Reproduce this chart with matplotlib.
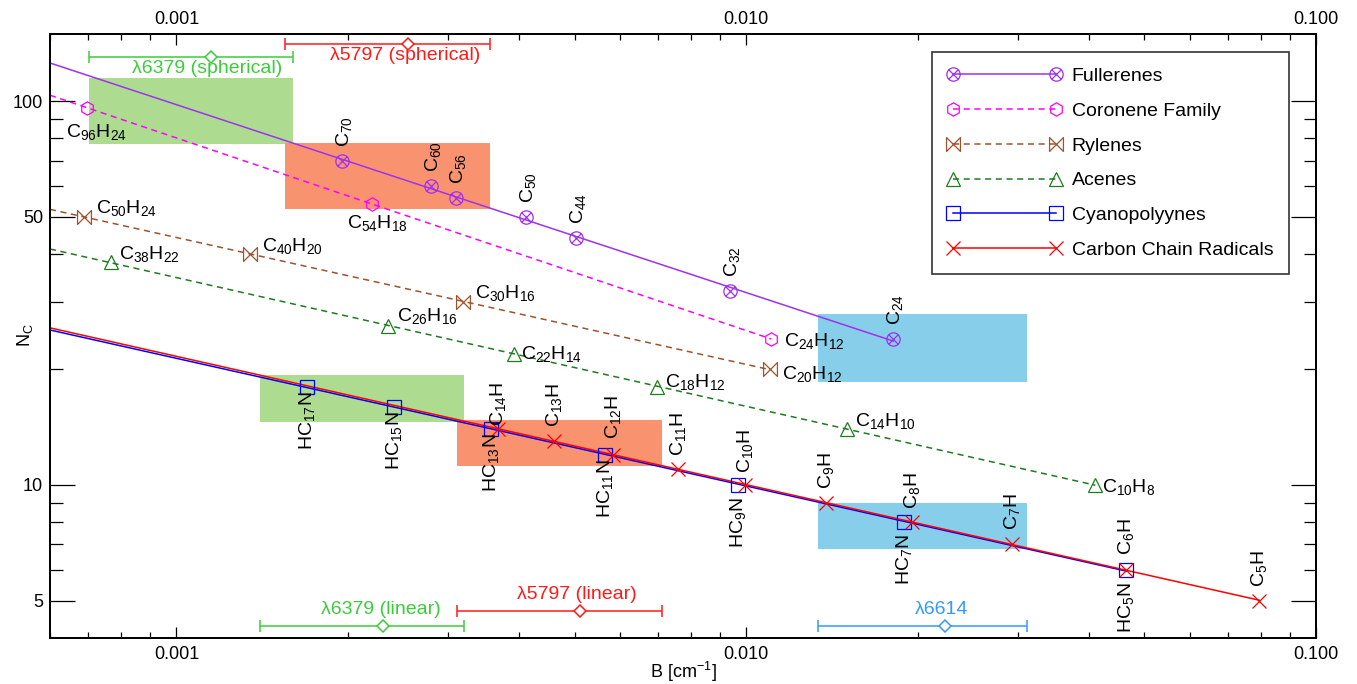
import numpy as np
import matplotlib
matplotlib.use("Agg")
import matplotlib.pyplot as plt
from matplotlib.path import Path
from matplotlib.lines import Line2D
from matplotlib.patches import Rectangle
from matplotlib.ticker import FixedLocator, FixedFormatter, NullFormatter

plt.rcParams['font.family'] = ['Liberation Sans', 'DejaVu Sans']
plt.rcParams['mathtext.default'] = 'regular'
plt.rcParams['font.size'] = 13

# rotational constant B [cm^-1] against number of carbon atoms N_C
fullerene_b = [0.00195, 0.00280, 0.00309, 0.00410, 0.00503, 0.00937, 0.01811]
fullerene_n = [70, 60, 56, 50, 44, 32, 24]
fullerene_names = ['C$_{70}$', 'C$_{60}$', 'C$_{56}$', 'C$_{50}$', 'C$_{44}$', 'C$_{32}$', 'C$_{24}$']

coronene_b = [0.000698, 0.00220, 0.01106]
coronene_n = [96, 54, 24]
coronene_names = ['C$_{96}$H$_{24}$', 'C$_{54}$H$_{18}$', 'C$_{24}$H$_{12}$']

rylene_b = [0.000687, 0.001346, 0.00319, 0.01099]
rylene_n = [50, 40, 30, 20]
rylene_names = ['C$_{50}$H$_{24}$', 'C$_{40}$H$_{20}$', 'C$_{30}$H$_{16}$', 'C$_{20}$H$_{12}$']

acene_b = [0.000767, 0.00235, 0.00391, 0.00698, 0.0150, 0.0410]
acene_n = [38, 26, 22, 18, 14, 10]
acene_names = ['C$_{38}$H$_{22}$', 'C$_{26}$H$_{16}$', 'C$_{22}$H$_{14}$', 'C$_{18}$H$_{12}$',
               'C$_{14}$H$_{10}$', 'C$_{10}$H$_{8}$']

cyano_b = [0.001693, 0.002405, 0.003559, 0.005642, 0.00969, 0.01895, 0.04647]
cyano_n = [18, 16, 14, 12, 10, 8, 6]
cyano_names = ['HC$_{17}$N', 'HC$_{15}$N', 'HC$_{13}$N', 'HC$_{11}$N', 'HC$_{9}$N', 'HC$_{7}$N', 'HC$_{5}$N']

chain_b = [0.003662, 0.004590, 0.005826, 0.007606, 0.009968, 0.01382, 0.01957, 0.02933, 0.04647, 0.07952]
chain_n = [14, 13, 12, 11, 10, 9, 8, 7, 6, 5]
chain_names = ['C$_{14}$H', 'C$_{13}$H', 'C$_{12}$H', 'C$_{11}$H', 'C$_{10}$H',
               'C$_{9}$H', 'C$_{8}$H', 'C$_{7}$H', 'C$_{6}$H', 'C$_{5}$H']

# DIB ranges in B
dib_names = ['λ6379 (spherical)', 'λ5797 (spherical)', 'λ6379 (linear)', 'λ5797 (linear)', 'λ6614']
dib_b = [0.001148, 0.002553, 0.002308, 0.00510, 0.02231]
dib_b_lo = [0.000702, 0.00155, 0.001402, 0.003102, 0.01334]
dib_b_hi = [0.00160, 0.003544, 0.003192, 0.007121, 0.03112]
dib_n = [130, 141, 4.3, 4.7, 4.3]

# shaded boxes: which DIB range, and N_C span
box_dib = [0, 1, 4, 2, 3, 4]
box_n_lo = [77.1, 52.5, 18.5, 14.6, 11.2, 6.8]
box_n_hi = [114.6, 78.0, 27.8, 19.3, 14.8, 9.0]

XMIN, XMAX = 0.0006, 0.1
YMIN, YMAX = 4, 150
PX = 0.72  # points per pixel at 100 dpi
FS = 14

green, red, blue6614 = '#3ACD3A', '#FF1A1A', '#3399FF'
dib_colors = [green, red, green, red, blue6614]
box_colors = ['#ADDC91', '#F9936F', '#87CEEB', '#ADDC91', '#F9936F', '#87CEEB']


def marker_circle_x():
    d = 0.7071
    cross = Path([(-d, -d), (d, d), (-d, d), (d, -d)],
                 [Path.MOVETO, Path.LINETO, Path.MOVETO, Path.LINETO])
    return Path.make_compound_path(Path.unit_circle(), cross)


def marker_bowtie():
    return Path([(-1, -1), (1, 1), (1, -1), (-1, 1), (-1, -1)],
                [Path.MOVETO, Path.LINETO, Path.LINETO, Path.LINETO, Path.CLOSEPOLY])


def fit_line(b, n):
    k, c = np.polyfit(np.log10(b), np.log10(n), 1)
    xs = np.array([XMIN, max(b)])
    return xs, 10 ** (c + k * np.log10(xs))


def label_points(ax, b, n, names, offsets, rot=0, ha='left', va='baseline'):
    for x, y, s, (dx, dy) in zip(b, n, names, offsets):
        ax.annotate(s, (x, y), xytext=(dx * PX, dy * PX), textcoords='offset points',
                    rotation=rot, ha=ha, va=va, fontsize=FS, zorder=6)


fig = plt.figure(figsize=(13.57, 6.84), dpi=100)
ax = fig.add_axes([50 / 1357, 1 - 637.7 / 684, 1266 / 1357, 604.2 / 684])
ax.set_xscale('log')
ax.set_yscale('log')
ax.set_xlim(XMIN, XMAX)
ax.set_ylim(YMIN, YMAX)

# shaded boxes
for i, lo, hi, col in zip(box_dib, box_n_lo, box_n_hi, box_colors):
    ax.add_patch(Rectangle((dib_b_lo[i], lo), dib_b_hi[i] - dib_b_lo[i], hi - lo,
                           facecolor=col, edgecolor='none', zorder=1))

series = [
    ('Fullerenes', fullerene_b, fullerene_n, '#A030F0', '-', marker_circle_x(), 9.6),
    ('Coronene Family', coronene_b, coronene_n, '#FF00FF', '--', 'h', 9.6),
    ('Rylenes', rylene_b, rylene_n, '#A0522D', '--', marker_bowtie(), 10),
    ('Acenes', acene_b, acene_n, '#1E7B1E', '--', '^', 9.6),
    ('Cyanopolyynes', cyano_b, cyano_n, '#0000FF', '-', 's', 10),
    ('Carbon Chain Radicals', chain_b, chain_n, '#FF0000', '-', 'x', 9.5),
]

handles = []
for name, b, n, col, ls, mk, ms in series:
    xs, ys = fit_line(b, n)
    ax.plot(xs, ys, color=col, ls=ls, lw=1.1, dashes=(4, 3) if ls == '--' else (None, None), zorder=3)
    ax.plot(b, n, ls='none', marker=mk, ms=ms, mfc='none', mec=col, mew=0.9, zorder=4)
    h = Line2D([], [], color=col, lw=1.1, marker=mk, ms=ms, mfc='none', mec=col, mew=0.9)
    if ls == '--':
        h.set_dashes((4, 3))
    handles.append((h, name))

# point labels (offsets in pixels)
label_points(ax, fullerene_b, fullerene_n, fullerene_names, [(2, 14)] * 7, rot=90, ha='center', va='bottom')
label_points(ax, coronene_b, coronene_n, coronene_names, [(-21, -29), (-25, -24), (13, -7)])
label_points(ax, rylene_b, rylene_n, rylene_names, [(12, 4), (12, 3), (12, 4), (12, -10)])
label_points(ax, acene_b, acene_n, acene_names, [(8, 3), (9, 5), (7, -5), (8, 0), (8, 3), (7, -7)])
label_points(ax, cyano_b, cyano_n, cyano_names, [(0, -63)] * 7, rot=90, ha='center', va='bottom')
label_points(ax, chain_b, chain_n, chain_names,
             [(0, 3), (0, 14), (0, 16), (0, 13), (0, 12), (0, 14), (0, 13), (0, 14), (0, 15), (0, 14)],
             rot=90, ha='center', va='bottom')

# DIB range bars
for i in range(len(dib_names)):
    x, y, col = dib_b[i], dib_n[i], dib_colors[i]
    ax.errorbar([x], [y], xerr=[[x - dib_b_lo[i]], [dib_b_hi[i] - x]], fmt='D', ms=6.2,
                mfc='white', mec=col, mew=1.1, color=col, ecolor=col, elinewidth=1.1,
                capsize=4.2, capthick=1.1, zorder=5)
    if 'spherical' in dib_names[i]:
        ax.annotate(dib_names[i], (x, y), xytext=(-3 * PX, -3 * PX), textcoords='offset points',
                    ha='center', va='top', color=col, fontsize=FS, zorder=6)
    else:
        ax.annotate(dib_names[i], (x, y), xytext=(-3 * PX, 8 * PX), textcoords='offset points',
                    ha='center', va='bottom', color=col, fontsize=FS, zorder=6)

leg = ax.legend([h for h, _ in handles], [s for _, s in handles], loc='upper right',
                bbox_to_anchor=((1289 - 50) / 1266, (637.7 - 52) / 604.2), borderaxespad=0,
                numpoints=2, handlelength=5.9, handletextpad=0.5, labelspacing=0.88, borderpad=0.8,
                fancybox=False, framealpha=1, edgecolor='#333333', fontsize=FS)
leg.get_frame().set_linewidth(1.2)
leg.set_zorder(10)

# axes styling
xmajor = [0.001, 0.01, 0.1]
xminor = [m * 10.0 ** e for e in (-4, -3, -2) for m in range(2, 10)]
xminor = [v for v in xminor if XMIN <= v <= XMAX]
ymajor = [5, 10, 50, 100]
yminor = [6, 7, 8, 9, 20, 30, 40, 60, 70, 80, 90]

ax.xaxis.set_major_locator(FixedLocator(xmajor))
ax.xaxis.set_major_formatter(FixedFormatter(['0.001', '0.010', '0.100']))
ax.xaxis.set_minor_locator(FixedLocator(xminor))
ax.xaxis.set_minor_formatter(NullFormatter())
ax.yaxis.set_major_locator(FixedLocator(ymajor))
ax.yaxis.set_major_formatter(FixedFormatter([str(v) for v in ymajor]))
ax.yaxis.set_minor_locator(FixedLocator(yminor))
ax.yaxis.set_minor_formatter(NullFormatter())

ax.tick_params(axis='x', which='major', direction='in', length=8, width=0.9, pad=6, top=False, labelsize=13)
ax.tick_params(axis='x', which='minor', direction='in', length=4, width=0.9, top=False)
ax.tick_params(axis='y', which='major', direction='in', length=18, width=0.9, pad=5, right=True, labelsize=13)
ax.tick_params(axis='y', which='minor', direction='in', length=9, width=0.9, right=True)

for sp in ax.spines.values():
    sp.set_linewidth(1.3)

ax2 = ax.twiny()
ax2.set_xscale('log')
ax2.set_xlim(XMIN, XMAX)
ax2.xaxis.set_major_locator(FixedLocator(xmajor))
ax2.xaxis.set_major_formatter(FixedFormatter(['0.001', '0.010', '0.100']))
ax2.xaxis.set_minor_locator(FixedLocator(xminor))
ax2.xaxis.set_minor_formatter(NullFormatter())
ax2.tick_params(axis='x', which='major', direction='in', length=8, width=0.9, pad=4, labelsize=13)
ax2.tick_params(axis='x', which='minor', direction='in', length=4, width=0.9)
for sp in ax2.spines.values():
    sp.set_linewidth(1.3)

ax.set_xlabel('B [cm$^{-1}$]', fontsize=13, labelpad=-2)
ax.set_ylabel('N$_C$', fontsize=13)
ax.yaxis.set_label_coords(-0.012, 0.5)

fig.savefig('out.png', dpi=100)
